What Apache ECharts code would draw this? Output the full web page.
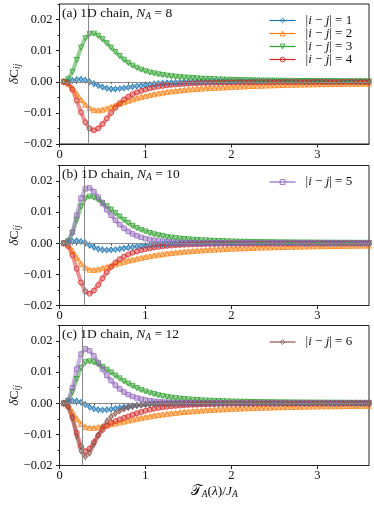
<!DOCTYPE html>
<html>
<head>
<meta charset="utf-8">
<script src="https://cdn.jsdelivr.net/npm/echarts@6/dist/echarts.min.js"></script>
<style>html,body{margin:0;padding:0;background:#fff}#main{width:374px;height:506px}</style>
</head>
<body>
<div id="main"></div>
<script>
// x positions T_A(lambda)/J_A, shared by every curve
var xs = [0.05, 0.10, 0.15, 0.20, 0.25, 0.30, 0.35, 0.40, 0.45, 0.50,
    0.55, 0.60, 0.65, 0.70, 0.75, 0.80, 0.85, 0.90, 0.95, 1.00,
    1.05, 1.10, 1.15, 1.20, 1.25, 1.30, 1.35, 1.40, 1.45, 1.50,
    1.55, 1.60, 1.65, 1.70, 1.75, 1.80, 1.85, 1.90, 1.95, 2.00,
    2.05, 2.10, 2.15, 2.20, 2.25, 2.30, 2.35, 2.40, 2.45, 2.50,
    2.55, 2.60, 2.65, 2.70, 2.75, 2.80, 2.85, 2.90, 2.95, 3.00,
    3.05, 3.10, 3.15, 3.20, 3.25, 3.30, 3.35, 3.40, 3.45, 3.50, 3.55, 3.60];

// deltaC_ij values, in units of 1e-3
// (a) N_A = 8
var a1 = [0, 0.1, 0.4, 0.7, 0.8, 0.5, 0, -0.6, -1.2, -1.7,
    -2.1, -2.3, -2.3, -2.2, -2.0, -1.8, -1.6, -1.4, -1.2, -1.0,
    -0.85, -0.7, -0.55, -0.45, -0.35, -0.27, -0.2, -0.14, -0.1, -0.06,
    -0.03, -0.01, 0, 0.01, 0.02, 0.03, 0.03, 0.04, 0.04, 0.04,
    0.04, 0.04, 0.04, 0.04, 0.03, 0.03, 0.03, 0.03, 0.03, 0.03,
    0.03, 0.03, 0.03, 0.02, 0.02, 0.02, 0.02, 0.02, 0.02, 0.02,
    0.02, 0.02, 0.02, 0.02, 0.02, 0.02, 0.02, 0.02, 0.02, 0.02, 0.02, 0.02];
var a2 = [0, -0.6, -2.0, -3.9, -5.8, -7.4, -8.5, -9.1, -9.2, -9.0,
    -8.6, -8.1, -7.6, -7.1, -6.6, -6.1, -5.7, -5.3, -4.9, -4.6,
    -4.3, -4.0, -3.75, -3.5, -3.3, -3.1, -2.95, -2.8, -2.65, -2.5,
    -2.4, -2.3, -2.2, -2.1, -2.0, -1.95, -1.88, -1.82, -1.76, -1.7,
    -1.62, -1.55, -1.48, -1.42, -1.36, -1.31, -1.26, -1.21, -1.16, -1.12,
    -1.08, -1.04, -1.0, -0.97, -0.94, -0.91, -0.88, -0.85, -0.83, -0.8,
    -0.78, -0.76, -0.74, -0.72, -0.7, -0.68, -0.66, -0.65, -0.63, -0.62, -0.6, -0.59];
var a3 = [0, 0.8, 3.2, 7.0, 11.0, 14.0, 15.4, 15.5, 14.8, 13.7,
    12.4, 11.0, 9.6, 8.3, 7.1, 6.1, 5.2, 4.5, 3.9, 3.4,
    3.0, 2.7, 2.4, 2.2, 2.0, 1.8, 1.65, 1.5, 1.4, 1.3,
    1.2, 1.1, 1.0, 0.95, 0.88, 0.82, 0.76, 0.71, 0.66, 0.62,
    0.58, 0.55, 0.52, 0.49, 0.46, 0.43, 0.41, 0.39, 0.37, 0.35,
    0.33, 0.31, 0.3, 0.28, 0.27, 0.26, 0.25, 0.24, 0.23, 0.22,
    0.21, 0.2, 0.19, 0.18, 0.18, 0.17, 0.16, 0.16, 0.15, 0.15, 0.14, 0.14];
var a4 = [0, -0.5, -2.5, -6.0, -9.8, -13.0, -15.0, -15.6, -15.0, -13.6,
    -11.8, -10.0, -8.3, -6.9, -5.7, -4.8, -4.0, -3.4, -2.9, -2.5,
    -2.1, -1.8, -1.55, -1.35, -1.15, -1.0, -0.88, -0.77, -0.68, -0.6,
    -0.53, -0.47, -0.42, -0.38, -0.34, -0.31, -0.28, -0.25, -0.23, -0.21,
    -0.19, -0.18, -0.17, -0.16, -0.15, -0.14, -0.13, -0.12, -0.12, -0.11,
    -0.1, -0.1, -0.09, -0.09, -0.08, -0.08, -0.08, -0.07, -0.07, -0.07,
    -0.06, -0.06, -0.06, -0.06, -0.05, -0.05, -0.05, -0.05, -0.05, -0.04, -0.04, -0.04];

// (b) N_A = 10
var b1 = [0, 0.2, 0.6, 0.8, 0.6, 0.1, -0.6, -1.3, -1.8, -2.1,
    -2.2, -2.1, -2.0, -1.8, -1.6, -1.4, -1.2, -1.0, -0.85, -0.7,
    -0.58, -0.47, -0.38, -0.3, -0.23, -0.17, -0.12, -0.08, -0.05, -0.03,
    -0.01, 0, 0.01, 0.02, 0.02, 0.03, 0.03, 0.03, 0.03, 0.03,
    0.03, 0.03, 0.03, 0.03, 0.03, 0.03, 0.02, 0.02, 0.02, 0.02,
    0.02, 0.02, 0.02, 0.02, 0.02, 0.02, 0.02, 0.02, 0.02, 0.02,
    0.02, 0.02, 0.02, 0.02, 0.01, 0.01, 0.01, 0.01, 0.01, 0.01, 0.01, 0.01];
var b2 = [0, -0.7, -2.4, -4.6, -6.6, -7.9, -8.5, -8.6, -8.4, -8.0,
    -7.6, -7.2, -6.8, -6.4, -6.0, -5.6, -5.3, -5.0, -4.7, -4.4,
    -4.15, -3.9, -3.7, -3.5, -3.3, -3.15, -3.0, -2.85, -2.7, -2.6,
    -2.5, -2.4, -2.3, -2.2, -2.1, -2.03, -1.96, -1.89, -1.82, -1.76,
    -1.7, -1.64, -1.58, -1.53, -1.48, -1.43, -1.39, -1.35, -1.31, -1.27,
    -1.23, -1.19, -1.16, -1.13, -1.1, -1.07, -1.04, -1.01, -0.99, -0.96,
    -0.94, -0.92, -0.9, -0.88, -0.86, -0.84, -0.82, -0.8, -0.78, -0.77, -0.75, -0.74];
var b3 = [0, 0.7, 3.3, 7.5, 11.8, 14.4, 15.0, 14.7, 14.0, 13.0,
    11.9, 10.8, 9.7, 8.6, 7.5, 6.5, 5.6, 4.9, 4.3, 3.8,
    3.3, 2.9, 2.6, 2.3, 2.05, 1.85, 1.65, 1.5, 1.38, 1.26,
    1.16, 1.07, 0.99, 0.92, 0.85, 0.78, 0.72, 0.67, 0.62, 0.58,
    0.54, 0.5, 0.47, 0.44, 0.41, 0.39, 0.37, 0.35, 0.33, 0.31,
    0.29, 0.28, 0.27, 0.25, 0.24, 0.23, 0.22, 0.21, 0.2, 0.19,
    0.18, 0.18, 0.17, 0.16, 0.16, 0.15, 0.15, 0.14, 0.14, 0.13, 0.13, 0.13];
var b4 = [0, -0.8, -3.8, -8.2, -12.6, -15.5, -16.2, -15.2, -13.4, -11.3,
    -9.3, -7.6, -6.2, -5.1, -4.3, -3.6, -3.0, -2.6, -2.2, -1.9,
    -1.6, -1.35, -1.15, -0.98, -0.84, -0.72, -0.62, -0.54, -0.47, -0.41,
    -0.36, -0.32, -0.29, -0.26, -0.23, -0.21, -0.19, -0.17, -0.16, -0.15,
    -0.14, -0.13, -0.12, -0.11, -0.1, -0.1, -0.09, -0.09, -0.08, -0.08,
    -0.07, -0.07, -0.07, -0.06, -0.06, -0.06, -0.06, -0.05, -0.05, -0.05,
    -0.05, -0.05, -0.04, -0.04, -0.04, -0.04, -0.04, -0.04, -0.04, -0.03, -0.03, -0.03];
var b5 = [0, 0.5, 3.5, 9.0, 14.5, 17.5, 17.8, 16.6, 14.8, 12.8,
    10.8, 9.0, 7.4, 6.0, 4.8, 3.8, 3.0, 2.4, 1.9, 1.5,
    1.2, 0.95, 0.75, 0.6, 0.48, 0.39, 0.32, 0.27, 0.23, 0.2,
    0.18, 0.16, 0.15, 0.14, 0.13, 0.12, 0.12, 0.11, 0.11, 0.1,
    0.1, 0.1, 0.09, 0.09, 0.09, 0.08, 0.08, 0.08, 0.08, 0.07,
    0.07, 0.07, 0.07, 0.07, 0.06, 0.06, 0.06, 0.06, 0.06, 0.06,
    0.06, 0.05, 0.05, 0.05, 0.05, 0.05, 0.05, 0.05, 0.05, 0.05, 0.05, 0.05];

// (c) N_A = 12
var c1 = [0, 0.3, 0.7, 0.7, 0.3, -0.4, -1.2, -1.8, -2.1, -2.2,
    -2.1, -1.9, -1.7, -1.45, -1.2, -1.0, -0.8, -0.63, -0.48, -0.36,
    -0.26, -0.18, -0.12, -0.07, -0.03, 0, 0.02, 0.03, 0.04, 0.04,
    0.04, 0.04, 0.04, 0.04, 0.04, 0.04, 0.03, 0.03, 0.03, 0.03,
    0.03, 0.03, 0.03, 0.03, 0.03, 0.03, 0.03, 0.02, 0.02, 0.02,
    0.02, 0.02, 0.02, 0.02, 0.02, 0.02, 0.02, 0.02, 0.02, 0.02,
    0.02, 0.02, 0.02, 0.01, 0.01, 0.01, 0.01, 0.01, 0.01, 0.01, 0.01, 0.01];
var c2 = [0, -0.8, -2.8, -5.0, -6.7, -7.6, -7.9, -7.9, -7.7, -7.4,
    -7.1, -6.8, -6.5, -6.2, -5.9, -5.6, -5.3, -5.0, -4.75, -4.5,
    -4.25, -4.0, -3.8, -3.6, -3.4, -3.25, -3.1, -2.95, -2.8, -2.7,
    -2.58, -2.47, -2.37, -2.27, -2.18, -2.1, -2.02, -1.95, -1.88, -1.81,
    -1.75, -1.69, -1.63, -1.58, -1.53, -1.48, -1.44, -1.4, -1.36, -1.32,
    -1.28, -1.25, -1.22, -1.19, -1.16, -1.13, -1.1, -1.07, -1.05, -1.02,
    -1.0, -0.98, -0.96, -0.94, -0.92, -0.9, -0.88, -0.86, -0.84, -0.83, -0.81, -0.8];
var c3 = [0, 0.8, 3.6, 7.8, 11.4, 13.2, 13.5, 13.2, 12.5, 11.7,
    10.8, 9.9, 8.9, 8.0, 7.1, 6.3, 5.6, 4.9, 4.3, 3.8,
    3.35, 2.95, 2.6, 2.3, 2.05, 1.85, 1.65, 1.5, 1.36, 1.24,
    1.13, 1.03, 0.95, 0.88, 0.81, 0.75, 0.7, 0.65, 0.61, 0.57,
    0.53, 0.5, 0.47, 0.44, 0.41, 0.39, 0.37, 0.35, 0.33, 0.31,
    0.29, 0.28, 0.27, 0.25, 0.24, 0.23, 0.22, 0.21, 0.2, 0.19,
    0.18, 0.18, 0.17, 0.16, 0.16, 0.15, 0.15, 0.14, 0.14, 0.13, 0.13, 0.13];
var c4 = [0, -1.0, -4.5, -9.5, -13.8, -15.5, -14.6, -12.5, -10.3, -8.5,
    -7.2, -6.3, -5.7, -5.2, -4.7, -4.2, -3.7, -3.2, -2.8, -2.4,
    -2.05, -1.75, -1.5, -1.3, -1.12, -0.97, -0.85, -0.74, -0.65, -0.57,
    -0.5, -0.44, -0.39, -0.35, -0.31, -0.28, -0.25, -0.23, -0.21, -0.19,
    -0.17, -0.16, -0.15, -0.14, -0.13, -0.12, -0.11, -0.1, -0.1, -0.09,
    -0.09, -0.08, -0.08, -0.08, -0.07, -0.07, -0.07, -0.06, -0.06, -0.06,
    -0.06, -0.05, -0.05, -0.05, -0.05, -0.05, -0.04, -0.04, -0.04, -0.04, -0.04, -0.04];
var c5 = [0, 0.8, 5.0, 11.0, 15.8, 17.5, 16.9, 15.2, 13.1, 11.0,
    9.0, 7.3, 5.8, 4.6, 3.6, 2.8, 2.2, 1.7, 1.35, 1.05,
    0.82, 0.65, 0.52, 0.42, 0.34, 0.28, 0.24, 0.2, 0.17, 0.15,
    0.13, 0.12, 0.11, 0.1, 0.09, 0.09, 0.08, 0.08, 0.07, 0.07,
    0.07, 0.07, 0.06, 0.06, 0.06, 0.06, 0.06, 0.05, 0.05, 0.05,
    0.05, 0.05, 0.05, 0.05, 0.04, 0.04, 0.04, 0.04, 0.04, 0.04,
    0.04, 0.04, 0.04, 0.04, 0.04, 0.04, 0.04, 0.04, 0.04, 0.04, 0.04, 0.04];
var c6 = [0, -1.0, -4.8, -10.5, -15.3, -17.2, -16.0, -13.2, -10.3, -7.8,
    -5.8, -4.3, -3.2, -2.4, -1.8, -1.35, -1.0, -0.75, -0.56, -0.42,
    -0.32, -0.25, -0.19, -0.15, -0.12, -0.1, -0.08, -0.07, -0.06, -0.05,
    -0.05, -0.04, -0.04, -0.04, -0.03, -0.03, -0.03, -0.03, -0.03, -0.03,
    -0.02, -0.02, -0.02, -0.02, -0.02, -0.02, -0.02, -0.02, -0.02, -0.02,
    -0.02, -0.02, -0.02, -0.02, -0.02, -0.02, -0.02, -0.02, -0.02, -0.02,
    -0.02, -0.02, -0.02, -0.02, -0.02, -0.02, -0.02, -0.02, -0.02, -0.02, -0.02, -0.02];

var xTicks = [0, 1, 2, 3];
var yTicks = [-0.02, -0.01, 0, 0.01, 0.02];

var FONT = 'Liberation Serif';
var colors = { d1: '#1f77b4', d2: '#ff7f0e', d3: '#2ca02c', d4: '#d62728', d5: '#9467bd', d6: '#8c564b' };
var symbols = {
    d1: ['diamond', [3.5, 6], 0], d2: ['triangle', 5, 0], d3: ['triangle', 5, 180],
    d4: ['circle', 5, 0], d5: ['rect', 4.5, 0], d6: ['diamond', [3.5, 6], 0]
};
var dist = { d1: '1', d2: '2', d3: '3', d4: '4', d5: '5', d6: '6' };

var panels = [
    { tag: '(a)', n: '8', top: 4, vline: 0.337, legend: ['d1', 'd2', 'd3', 'd4'], curves: { d1: a1, d2: a2, d3: a3, d4: a4 } },
    { tag: '(b)', n: '10', top: 165.5, vline: 0.287, legend: ['d5'], curves: { d1: b1, d2: b2, d3: b3, d4: b4, d5: b5 } },
    { tag: '(c)', n: '12', top: 325.5, vline: 0.26, legend: ['d6'], curves: { d1: c1, d2: c2, d3: c3, d4: c4, d5: c5, d6: c6 } }
];
var H = 140, LEFT = 59.5, W = 309.5;

var txt = { fontFamily: FONT, fontSize: 13.5, fontWeight: 'normal', color: '#111', lineHeight: 16, verticalAlign: 'middle' };
var ital = Object.assign({}, txt, { fontStyle: 'italic' });
var sub = { fontFamily: FONT, fontSize: 9.5, fontWeight: 'normal', color: '#111', lineHeight: 9, verticalAlign: 'bottom' };
var subIt = Object.assign({}, sub, { fontStyle: 'italic' });
var rich = { t: txt, it: ital, s: sub, si: subIt };

function isTick(v, list) {
    return list.some(function (t) { return Math.abs(t - v) < 1e-9; });
}

var grid = [], xAxis = [], yAxis = [], series = [], title = [], legend = [];

panels.forEach(function (p, k) {
    grid.push({
        left: LEFT, top: p.top, width: W, height: H, show: true, borderColor: '#222', borderWidth: 1,
        containLabel: false, outerBoundsMode: 'none'
    });

    xAxis.push({
        gridIndex: k, type: 'value', min: 0, max: 3.6, interval: 1, position: 'bottom',
        axisLine: { onZero: false, lineStyle: { color: '#222', width: 1 } },
        axisTick: { length: 3.5, lineStyle: { color: '#222', width: 1 } },
        axisLabel: {
            margin: 4, fontFamily: FONT, fontSize: 12.5, color: '#111', showMaxLabel: false,
            formatter: function (v) { return isTick(v, xTicks) ? String(Math.round(v)) : ''; }
        },
        splitLine: { show: false },
        name: k === 2 ? '{t|\uD835\uDCAF}{si|A}{t|(}{it|\u03BB}{t|)/}{it|J}{si|A}' : '',
        nameLocation: 'middle', nameGap: 18, nameMoveOverlap: false,
        nameTextStyle: { rich: rich }
    });
    xAxis.push({
        gridIndex: k, type: 'value', min: 0, max: 3.6, interval: 0.2, position: 'bottom',
        axisLine: { show: false }, axisLabel: { show: false }, splitLine: { show: false },
        axisTick: { length: 2, lineStyle: { color: '#222', width: 1 } }
    });

    yAxis.push({
        gridIndex: k, type: 'value', min: -0.02, max: 0.025, interval: 0.01, position: 'left',
        axisLine: { onZero: false, lineStyle: { color: '#222', width: 1 } },
        axisTick: { length: 3.5, lineStyle: { color: '#222', width: 1 } },
        axisLabel: {
            margin: 7, fontFamily: FONT, fontSize: 12.5, color: '#111', showMaxLabel: false,
            formatter: function (v) {
                if (!isTick(v, yTicks)) return '';
                return (v < -1e-9 ? '\u2212' : '') + Math.abs(v).toFixed(2);
            }
        },
        splitLine: { show: false },
        name: '{it|\u03B4}{t|C}{si|ij}', nameLocation: 'middle', nameGap: 37, nameRotate: 90,
        nameMoveOverlap: false,
        nameTextStyle: { rich: rich }
    });
    yAxis.push({
        gridIndex: k, type: 'value', min: -0.02, max: 0.025, interval: 0.005, position: 'left',
        axisLine: { show: false }, axisLabel: { show: false }, splitLine: { show: false },
        axisTick: { length: 2, lineStyle: { color: '#222', width: 1 } }
    });

    // reference lines: y = 0 and the vertical marker
    series.push({
        type: 'line', xAxisIndex: 2 * k, yAxisIndex: 2 * k, data: [], z: 1, silent: true,
        markLine: {
            silent: true, animation: false, symbol: ['none', 'none'], label: { show: false },
            lineStyle: { color: '#8a8a8a', width: 1, type: 'solid' },
            data: [{ xAxis: p.vline }, { yAxis: 0 }]
        }
    });

    Object.keys(p.curves).forEach(function (key) {
        var vals = p.curves[key];
        series.push({
            name: key, type: 'line', xAxisIndex: 2 * k, yAxisIndex: 2 * k, z: 3,
            data: xs.map(function (x, i) { return [x, vals[i] / 1000]; }),
            symbol: symbols[key][0], symbolSize: symbols[key][1], symbolRotate: symbols[key][2],
            showAllSymbol: true,
            lineStyle: { color: colors[key], width: 4, opacity: 0.5 },
            itemStyle: { color: 'rgba(255,255,255,0)', borderColor: colors[key], borderWidth: 0.8 },
            emphasis: { disabled: true }
        });
    });

    title.push({
        text: '{t|' + p.tag + ' 1D chain, }{it|N}{si|A}{t| = ' + p.n + '}',
        left: 62, top: p.top + 1, padding: 0,
        textStyle: { fontWeight: 'normal', rich: rich }
    });

    legend.push({
        data: p.legend.map(function (key) {
            return {
                name: key,
                itemStyle: { color: 'rgba(255,255,255,0)', borderColor: colors[key], borderWidth: 0.9 },
                lineStyle: { color: colors[key], width: 1.2, opacity: 1 }
            };
        }),
        orient: 'vertical', left: 269, top: p.top + 10, padding: 0,
        itemWidth: 26, itemHeight: 6, itemGap: 0, selectedMode: false,
        formatter: function (name) {
            return '{t||}{it|i}{t| \u2212 }{it|j}{t|| = ' + dist[name] + '}';
        },
        textStyle: { padding: [0, 0, 0, 5], rich: {
            t: { fontFamily: FONT, fontSize: 13, color: '#111', lineHeight: 14 },
            it: { fontFamily: FONT, fontSize: 13, color: '#111', lineHeight: 14, fontStyle: 'italic' }
        } }
    });
});

var chart = echarts.init(document.getElementById('main'), null, { renderer: 'canvas' });
chart.setOption({
    animation: false,
    backgroundColor: '#fff',
    title: title,
    legend: legend,
    grid: grid,
    xAxis: xAxis,
    yAxis: yAxis,
    series: series
});
</script>
</body>
</html>
